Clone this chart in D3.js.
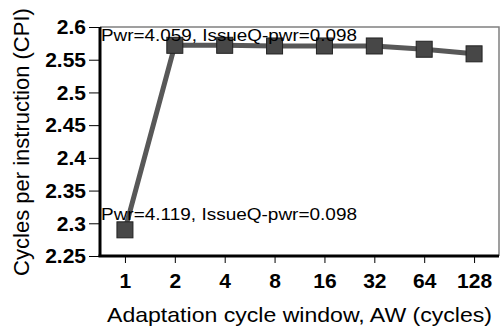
<!DOCTYPE html>
<html>
<head>
<meta charset="utf-8">
<script src="https://cdn.jsdelivr.net/npm/d3@7"></script>
<style>
  html, body { margin: 0; padding: 0; background: #fff; }
  svg { display: block; font-family: "Liberation Sans", Arial, sans-serif; }
</style>
</head>
<body>
<svg id="chart" width="500" height="333"></svg>
<script>
// Adaptation cycle window sizes (cycles)
const windows = ["1", "2", "4", "8", "16", "32", "64", "128"];
// Measured cycles per instruction for each window size
const cpi = [2.290, 2.572, 2.572, 2.571, 2.571, 2.571, 2.566, 2.559];
// Y axis tick values
const yTicks = [2.25, 2.3, 2.35, 2.4, 2.45, 2.5, 2.55, 2.6];
// Power annotations (top and bottom of the plot)
const notes = ["Pwr=4.059, IssueQ-pwr=0.098", "Pwr=4.119, IssueQ-pwr=0.098"];

const svg = d3.select("#chart");
const m = { left: 100, right: 1, top: 27, bottom: 77 };
const W = 500, H = 333;

const x = d3.scalePoint().domain(windows).range([m.left, W - m.right]).padding(0.5);
const y = d3.scaleLinear().domain([2.25, 2.6]).range([H - m.bottom, m.top]);

// Frame: gray top and right edges
svg.append("path")
  .attr("d", `M${m.left},${y(2.6)}H${W - m.right}V${y(2.25)}`)
  .attr("fill", "none").attr("stroke", "#808080").attr("stroke-width", 1.5);

// Y axis
const yAxis = svg.append("g")
  .attr("transform", `translate(${m.left},0)`)
  .call(d3.axisLeft(y).tickValues(yTicks).tickFormat(d3.format("")).tickSize(11).tickPadding(3));
yAxis.select(".domain").attr("stroke", "#000").attr("stroke-width", 3)
  .attr("d", `M0,${y(2.6)}V${y(2.25)}`);
yAxis.selectAll(".tick line").attr("stroke", "#000").attr("stroke-width", 1);
yAxis.selectAll(".tick text")
  .attr("font-size", 21).attr("font-weight", "bold").attr("fill", "#000")
  .attr("font-family", "'Liberation Sans', Arial, sans-serif");

// X axis
const xAxis = svg.append("g")
  .attr("transform", `translate(0,${y(2.25)})`)
  .call(d3.axisBottom(x).tickSize(7).tickPadding(10));
xAxis.select(".domain").attr("stroke", "#000").attr("stroke-width", 3)
  .attr("d", `M${m.left - 1.5},0H${W - m.right}`);
xAxis.selectAll(".tick line").attr("stroke", "#000").attr("stroke-width", 1);
xAxis.selectAll(".tick text")
  .attr("font-size", 21).attr("font-weight", "bold").attr("fill", "#000")
  .attr("font-family", "'Liberation Sans', Arial, sans-serif");

// Series line
const pts = windows.map((w, i) => [x(w), y(cpi[i])]);
svg.append("path")
  .attr("d", d3.line()(pts))
  .attr("fill", "none").attr("stroke", "#585858").attr("stroke-width", 5);

// Square markers
const s = 16;
svg.selectAll("rect.mk").data(pts).join("rect")
  .attr("class", "mk")
  .attr("x", d => d[0] - s / 2).attr("y", d => d[1] - s / 2)
  .attr("width", s).attr("height", s)
  .attr("fill", "#474747").attr("stroke", "#222").attr("stroke-width", 1);

// Annotations
const noteY = [y(2.6) + 14, y(2.305)];
svg.selectAll("text.note").data(notes).join("text")
  .attr("class", "note")
  .attr("x", m.left + 1)
  .attr("y", (d, i) => noteY[i])
  .attr("font-size", 16.7).attr("fill", "#000")
  .attr("textLength", 256).attr("lengthAdjust", "spacingAndGlyphs")
  .text(d => d);

// Axis titles
svg.append("text")
  .attr("x", 107).attr("y", 322)
  .attr("font-size", 21).attr("fill", "#000")
  .attr("textLength", 385).attr("lengthAdjust", "spacingAndGlyphs")
  .text("Adaptation cycle window, AW (cycles)");

svg.append("text")
  .attr("transform", "translate(29,142) rotate(-90)")
  .attr("text-anchor", "middle").attr("font-size", 22).attr("fill", "#000")
  .text("Cycles per instruction (CPI)");
</script>
</body>
</html>
